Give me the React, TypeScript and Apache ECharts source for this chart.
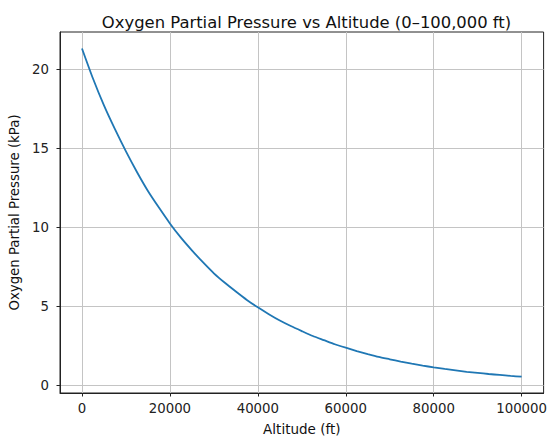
import React, { useEffect, useRef } from "react";
import * as echarts from "echarts";

const altitudes = [
  0, 2500, 5000, 7500, 10000, 12500, 15000, 17500, 20000, 22500, 25000, 27500, 30000, 32500, 35000, 37500, 40000,
  42500, 45000, 47500, 50000, 52500, 55000, 57500, 60000, 62500, 65000, 67500, 70000, 72500, 75000, 77500, 80000,
  82500, 85000, 87500, 90000, 92500, 95000, 97500, 100000,
];
const pressures = [
  21.3, 19.4, 17.7, 16.2, 14.8, 13.5, 12.3, 11.25, 10.25, 9.35, 8.55, 7.8, 7.1, 6.5, 5.95, 5.42, 4.95,
  4.52, 4.12, 3.77, 3.45, 3.14, 2.88, 2.62, 2.4, 2.19, 2.0, 1.82, 1.67, 1.52, 1.39, 1.27, 1.16,
  1.06, 0.97, 0.88, 0.81, 0.74, 0.68, 0.62, 0.57,
];
const xTicks = [0, 20000, 40000, 60000, 80000, 100000];
const yTicks = [0, 5, 10, 15, 20];

const FONT = "DejaVu Sans";

export default function App() {
  const ref = useRef<HTMLDivElement>(null);
  useEffect(() => {
    if (!ref.current) return;
    const chart = echarts.init(ref.current, null, { renderer: "svg" });
    chart.setOption({
      animation: false,
      backgroundColor: "#ffffff",
      title: {
        text: "Oxygen Partial Pressure vs Altitude (0–100,000 ft)",
        left: 301.5,
        textAlign: "center",
        top: 9,
        textStyle: { fontFamily: FONT, fontSize: 16.4, fontWeight: "normal", color: "#111" },
      },
      grid: {
        left: 60,
        right: 4,
        top: 32,
        bottom: 46,
        show: true,
        borderColor: "#222",
        borderWidth: 1,
        backgroundColor: "transparent",
      },
      xAxis: {
        type: "value",
        min: -5000,
        max: 105000,
        name: "Altitude (ft)",
        nameLocation: "middle",
        nameGap: 29,
        nameTextStyle: { fontFamily: FONT, fontSize: 13.5, color: "#111" },
        axisLine: { show: true, onZero: false, lineStyle: { color: "#222", width: 1 } },
        axisTick: { show: true, inside: false, length: 3.5, customValues: xTicks, lineStyle: { color: "#222" } },
        axisLabel: { customValues: xTicks, margin: 9, fontFamily: FONT, fontSize: 13.3, color: "#222", formatter: (v: number) => String(v) },
        splitLine: { show: true, lineStyle: { color: "#c4c4c4", width: 1 } },
      },
      yAxis: {
        type: "value",
        min: -0.46,
        max: 22.34,
        name: "Oxygen Partial Pressure (kPa)",
        nameLocation: "middle",
        nameGap: 33,
        nameTextStyle: { fontFamily: FONT, fontSize: 13.3, color: "#111" },
        axisLine: { show: true, onZero: false, lineStyle: { color: "#222", width: 1 } },
        axisTick: { show: true, inside: false, length: 3.5, customValues: yTicks, lineStyle: { color: "#222" } },
        axisLabel: { customValues: yTicks, margin: 11, fontFamily: FONT, fontSize: 13.3, color: "#222", formatter: (v: number) => String(v) },
        splitLine: { show: true, lineStyle: { color: "#c4c4c4", width: 1 } },
      },
      series: [
        {
          type: "line",
          data: altitudes.map((a, i) => [a, pressures[i]]),
          showSymbol: false,
          smooth: 0.2,
          lineStyle: { color: "#1f77b4", width: 1.8 },
        },
      ],
    });
    return () => chart.dispose();
  }, []);
  return <div ref={ref} style={{ position: "fixed", left: 0, top: 0, width: 550, height: 441 }} />;
}
